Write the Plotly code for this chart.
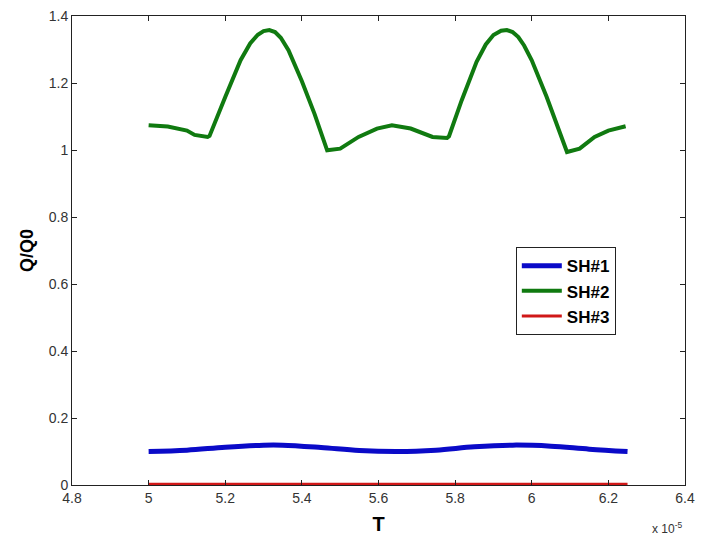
import plotly.graph_objects as go

# Time in units of 1e-5
t_green = [5.0, 5.05, 5.1, 5.12, 5.154, 5.159, 5.2, 5.24, 5.265, 5.285, 5.3, 5.315, 5.33, 5.345, 5.365, 5.4, 5.433, 5.466,
           5.5, 5.548, 5.596, 5.635, 5.684, 5.741, 5.779, 5.784, 5.817, 5.856, 5.88, 5.9, 5.92, 5.935, 5.95, 5.965, 5.98, 6.0,
           6.039, 6.058, 6.092, 6.125, 6.164, 6.2, 6.245]
q_green = [1.074, 1.07, 1.058, 1.045, 1.039, 1.042, 1.158, 1.268, 1.318, 1.344, 1.355, 1.358, 1.352, 1.335, 1.298, 1.205, 1.108, 0.999,
           1.004, 1.039, 1.064, 1.074, 1.064, 1.039, 1.036, 1.041, 1.148, 1.263, 1.315, 1.343, 1.356, 1.358, 1.352, 1.337, 1.312, 1.268,
           1.158, 1.098, 0.994, 1.004, 1.039, 1.058, 1.071]

t_blue = [5.0, 5.1, 5.2, 5.3, 5.35, 5.45, 5.55, 5.65, 5.75, 5.85, 5.95, 6.05, 6.15, 6.25]
q_blue = [0.100, 0.104, 0.113, 0.119, 0.119, 0.112, 0.103, 0.100, 0.104, 0.114, 0.119, 0.116, 0.107, 0.100]

t_red = [5.0, 6.25]
q_red = [0.002, 0.002]

x_ticks = [4.8, 5.0, 5.2, 5.4, 5.6, 5.8, 6.0, 6.2, 6.4]
x_labels = ["4.8", "5", "5.2", "5.4", "5.6", "5.8", "6", "6.2", "6.4"]
y_ticks = [0, 0.2, 0.4, 0.6, 0.8, 1.0, 1.2, 1.4]
y_labels = ["0", "0.2", "0.4", "0.6", "0.8", "1", "1.2", "1.4"]

fig = go.Figure()
fig.add_trace(go.Scatter(x=t_blue, y=q_blue, mode="lines", name="SH#1",
                         line=dict(color="#0a0ac8", width=5, shape="spline")))
fig.add_trace(go.Scatter(x=t_green, y=q_green, mode="lines", name="SH#2",
                         line=dict(color="#107a10", width=4)))
fig.add_trace(go.Scatter(x=t_red, y=q_red, mode="lines", name="SH#3",
                         line=dict(color="#d01818", width=3)))

fam = "Liberation Sans, Arial, sans-serif"
tickfont = dict(family=fam, size=14, color="#333333")
fig.update_layout(
    width=715, height=542,
    margin=dict(l=72, r=30, t=16, b=57),
    paper_bgcolor="white", plot_bgcolor="white",
    showlegend=True,
    legend=dict(x=0.724, y=0.507, xanchor="left", yanchor="top",
                bordercolor="#222222", borderwidth=1, bgcolor="white",
                font=dict(family=fam, size=17, color="black", weight="bold"),
                tracegroupgap=0, itemwidth=40),
    xaxis=dict(range=[4.8, 6.4], tickvals=x_ticks, ticktext=x_labels, automargin=False,
               showgrid=False, zeroline=False, showline=True, linecolor="#222222", linewidth=1,
               mirror="ticks", ticks="inside", ticklen=5, tickcolor="#222222", tickfont=tickfont,
               ticklabeloverflow="allow",
               title=dict(text="<b>T</b>", font=dict(family=fam, size=20, color="black"),
                          standoff=12)),
    yaxis=dict(range=[0, 1.4], tickvals=y_ticks, ticktext=y_labels, automargin=False,
               showgrid=False, zeroline=False, showline=True, linecolor="#222222", linewidth=1,
               mirror="ticks", ticks="inside", ticklen=5, tickcolor="#222222", tickfont=tickfont,
               ticklabeloverflow="allow",
               title=dict(text="<b>Q/Q0</b>", font=dict(family=fam, size=18, color="black"),
                          standoff=10)),
    annotations=[dict(text="x 10<sup>-5</sup>", xref="paper", yref="paper", x=0.97, y=-0.092,
                      xanchor="center", yanchor="middle", showarrow=False,
                      font=dict(family=fam, size=12, color="#333333"))],
)

fig.write_html("out.html", config={"displayModeBar": False},
               post_script="document.body.style.margin='0';")
